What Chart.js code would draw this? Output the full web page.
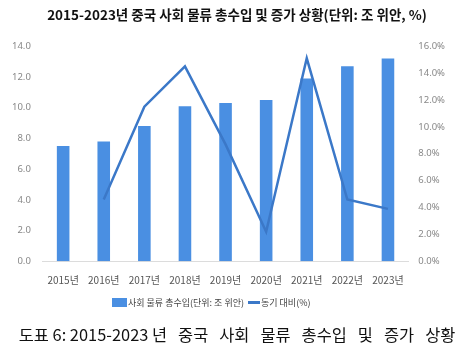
<!DOCTYPE html>
<html>
<head>
<meta charset="utf-8">
<script src="https://cdn.jsdelivr.net/npm/chart.js@4"></script>
<style>
  body { margin: 0; background: #fff; }
  #wrap { width: 474px; height: 353px; position: relative; }
  #leyenda { position: absolute; left: 112px; top: 296px; font: 9px 'Noto Sans CJK KR', sans-serif; color: #444;
             display: flex; align-items: center; white-space: nowrap; }
  #leyenda span.caja { display: inline-block; width: 15px; height: 9px; margin-right: 1px; }
  #leyenda span.raya { display: inline-block; width: 12px; height: 3px; margin: 0 1px 0 4px; }
</style>
</head>
<body>
<div id="wrap">
  <canvas id="grafico"></canvas>
  <div id="leyenda"></div>
</div>
<script>
const anios = ["2015년", "2016년", "2017년", "2018년", "2019년", "2020년", "2021년", "2022년", "2023년"];
const ingresos = [7.5, 7.8, 8.8, 10.1, 10.3, 10.5, 11.9, 12.7, 13.2];
const crecimiento = [null, 4.6, 11.5, 14.5, 8.7, 2.2, 15.1, 4.6, 3.9];
const ticksIzq = [0, 2, 4, 6, 8, 10, 12, 14];
const ticksDer = [0, 2, 4, 6, 8, 10, 12, 14, 16];

const azulBarra = "#4a8fe2";
const azulLinea = "#3b78c8";
const fuenteKr = "'Noto Sans CJK KR', 'Noto Sans', sans-serif";

const ctx = document.getElementById("grafico").getContext("2d");
const grafico = new Chart(ctx, {
  data: {
    labels: anios,
    datasets: [
      {
        type: "line",
        label: "동기 대비(%)",
        data: crecimiento,
        yAxisID: "y2",
        borderColor: azulLinea,
        borderWidth: 2.5,
        pointRadius: 0,
        tension: 0,
        order: 0
      },
      {
        type: "bar",
        label: "사회 물류 총수입(단위: 조 위안)",
        data: ingresos,
        yAxisID: "y",
        backgroundColor: azulBarra,
        categoryPercentage: 1,
        barPercentage: 0.31,
        order: 1
      }
    ]
  },
  options: {
    responsive: true,
    maintainAspectRatio: false,
    animation: false,
    layout: { padding: { left: 0, right: 0, top: 4, bottom: 6 } },
    scales: {
      x: {
        grid: { display: false, drawTicks: false },
        border: { color: "#dcdcdc", width: 1 },
        ticks: { color: "#555", font: { family: fuenteKr, size: 10 }, padding: 13, maxRotation: 0 }
      },
      y: {
        position: "left",
        min: 0, max: 14,
        afterBuildTicks: ax => { ax.ticks = ticksIzq.map(v => ({ value: v })); },
        grid: { display: false, drawTicks: false },
        border: { display: false },
        ticks: { color: "#888", font: { family: "'Noto Sans', sans-serif", size: 9.5 }, padding: 12,
                 callback: v => v.toFixed(1) }
      },
      y2: {
        position: "right",
        min: 0, max: 16,
        afterBuildTicks: ax => { ax.ticks = ticksDer.map(v => ({ value: v })); },
        afterFit: ax => { ax.width += 19; },
        grid: { display: false, drawTicks: false },
        border: { display: false },
        ticks: { color: "#888", font: { family: "'Noto Sans', sans-serif", size: 9.5 }, padding: 10,
                 callback: v => v.toFixed(1) + "%" }
      }
    },
    plugins: {
      title: {
        display: true,
        text: "2015-2023년 중국 사회 물류 총수입 및 증가 상황(단위: 조 위안, %)",
        color: "#111",
        font: { family: fuenteKr, size: 13.5, weight: "bold" },
        padding: { top: 3, bottom: 23 }
      },
      subtitle: {
        display: true,
        position: "bottom",
        text: "도표 6: 2015-2023 년   중국   사회   물류   총수입   및   증가   상황",
        color: "#111",
        font: { family: fuenteKr, size: 16.4 },
        padding: { top: 26, bottom: 2 }
      },
      legend: { display: false },
      tooltip: { enabled: false }
    }
  }
});

// leyenda en HTML con los mismos colores y textos de los datasets
const ley = document.getElementById("leyenda");
grafico.data.datasets.slice().reverse().forEach(ds => {
  const marca = document.createElement("span");
  marca.className = ds.type === "bar" ? "caja" : "raya";
  marca.style.background = ds.type === "bar" ? ds.backgroundColor : ds.borderColor;
  ley.appendChild(marca);
  const txt = document.createElement("span");
  txt.textContent = ds.label;
  ley.appendChild(txt);
});
</script>
</body>
</html>
